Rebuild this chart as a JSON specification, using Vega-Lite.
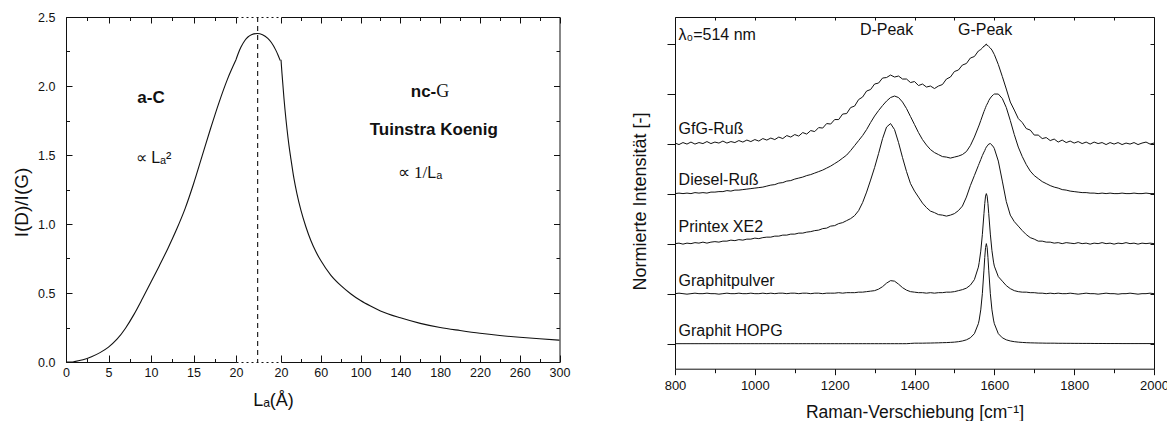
{
  "$schema": "https://vega.github.io/schema/vega-lite/v6.json",
  "background": "white",
  "padding": {"left": 12, "top": 11, "right": 0, "bottom": 0},
  "config": {
    "font": "Liberation Sans",
    "view": {"stroke": null},
    "axis": {"grid": false, "labelFont": "Liberation Sans", "titleFont": "Liberation Sans", "labelColor": "#111", "titleColor": "#111", "domainColor": "#111", "tickColor": "#111", "titleFontWeight": "normal", "labelFlush": false, "labelOverlap": false, "domainWidth": 1, "tickWidth": 1}
  },
  "datasets": {
    "aC": [
      {"La": 0, "r": 0}, {"La": 0.7, "r": 0}, {"La": 1, "r": 0.003}, {"La": 2, "r": 0.016}, {"La": 3, "r": 0.038}, {"La": 4, "r": 0.068},
      {"La": 5, "r": 0.108}, {"La": 6, "r": 0.165}, {"La": 7, "r": 0.245}, {"La": 8, "r": 0.345}, {"La": 9, "r": 0.46}, {"La": 10, "r": 0.58},
      {"La": 11, "r": 0.7}, {"La": 12, "r": 0.825}, {"La": 13, "r": 0.96}, {"La": 14, "r": 1.11}, {"La": 15, "r": 1.29}, {"La": 16, "r": 1.49},
      {"La": 17, "r": 1.69}, {"La": 18, "r": 1.88}, {"La": 19, "r": 2.05}, {"La": 20, "r": 2.19}
    ],
    "trans": [
      {"s": 0, "r": 2.19}, {"s": 0.05, "r": 2.235}, {"s": 0.11, "r": 2.28}, {"s": 0.2, "r": 2.33}, {"s": 0.27, "r": 2.355}, {"s": 0.35, "r": 2.372},
      {"s": 0.48, "r": 2.38}, {"s": 0.6, "r": 2.372}, {"s": 0.72, "r": 2.345}, {"s": 0.8, "r": 2.315}, {"s": 0.9, "r": 2.26}, {"s": 0.95, "r": 2.225}, {"s": 1, "r": 2.185}
    ],
    "nc": [
      {"La": 20, "r": 2.19}, {"La": 21, "r": 2.09}, {"La": 22, "r": 2.0}, {"La": 23, "r": 1.91}, {"La": 24, "r": 1.83}, {"La": 26, "r": 1.69},
      {"La": 28, "r": 1.57}, {"La": 30, "r": 1.47}, {"La": 33, "r": 1.33}, {"La": 36, "r": 1.22}, {"La": 40, "r": 1.1}, {"La": 45, "r": 0.98},
      {"La": 50, "r": 0.88}, {"La": 55, "r": 0.8}, {"La": 60, "r": 0.735}, {"La": 70, "r": 0.63}, {"La": 80, "r": 0.555}, {"La": 90, "r": 0.495},
      {"La": 100, "r": 0.445}, {"La": 110, "r": 0.405}, {"La": 120, "r": 0.37}, {"La": 140, "r": 0.32}, {"La": 160, "r": 0.28}, {"La": 180, "r": 0.25},
      {"La": 200, "r": 0.228}, {"La": 220, "r": 0.208}, {"La": 240, "r": 0.192}, {"La": 260, "r": 0.179}, {"La": 280, "r": 0.168}, {"La": 300, "r": 0.158}
    ],
    "spec": [
      {"w":800,"GfG":4.01,"Diesel":3.00,"Printex":2.00,"Pulver":1.00,"HOPG":0.00},
      {"w":810,"GfG":3.98,"Diesel":3.01,"Printex":2.01,"Pulver":1.01,"HOPG":0.00},
      {"w":820,"GfG":4.02,"Diesel":3.00,"Printex":1.99,"Pulver":1.00,"HOPG":0.00},
      {"w":830,"GfG":3.99,"Diesel":3.01,"Printex":2.01,"Pulver":0.99,"HOPG":0.00},
      {"w":840,"GfG":4.03,"Diesel":3.00,"Printex":2.00,"Pulver":1.00,"HOPG":0.00},
      {"w":850,"GfG":3.99,"Diesel":3.02,"Printex":2.02,"Pulver":1.01,"HOPG":0.00},
      {"w":860,"GfG":4.02,"Diesel":3.01,"Printex":2.01,"Pulver":1.00,"HOPG":0.00},
      {"w":870,"GfG":4.00,"Diesel":3.02,"Printex":2.03,"Pulver":1.00,"HOPG":0.00},
      {"w":880,"GfG":4.04,"Diesel":3.01,"Printex":2.01,"Pulver":1.01,"HOPG":0.00},
      {"w":890,"GfG":4.00,"Diesel":3.03,"Printex":2.03,"Pulver":1.00,"HOPG":0.00},
      {"w":900,"GfG":4.03,"Diesel":3.03,"Printex":2.04,"Pulver":1.00,"HOPG":0.00},
      {"w":910,"GfG":4.01,"Diesel":3.04,"Printex":2.03,"Pulver":0.99,"HOPG":0.00},
      {"w":920,"GfG":4.05,"Diesel":3.04,"Printex":2.05,"Pulver":1.00,"HOPG":0.00},
      {"w":930,"GfG":4.01,"Diesel":3.06,"Printex":2.05,"Pulver":1.01,"HOPG":0.00},
      {"w":940,"GfG":4.04,"Diesel":3.05,"Printex":2.07,"Pulver":1.00,"HOPG":0.00},
      {"w":950,"GfG":4.02,"Diesel":3.07,"Printex":2.06,"Pulver":1.00,"HOPG":0.00},
      {"w":960,"GfG":4.06,"Diesel":3.07,"Printex":2.08,"Pulver":1.01,"HOPG":0.00},
      {"w":970,"GfG":4.03,"Diesel":3.08,"Printex":2.07,"Pulver":1.00,"HOPG":0.00},
      {"w":980,"GfG":4.07,"Diesel":3.09,"Printex":2.09,"Pulver":1.00,"HOPG":0.00},
      {"w":990,"GfG":4.04,"Diesel":3.10,"Printex":2.09,"Pulver":1.01,"HOPG":0.00},
      {"w":1000,"GfG":4.08,"Diesel":3.11,"Printex":2.11,"Pulver":1.00,"HOPG":0.00},
      {"w":1010,"GfG":4.05,"Diesel":3.12,"Printex":2.10,"Pulver":1.00,"HOPG":0.00},
      {"w":1020,"GfG":4.10,"Diesel":3.13,"Printex":2.12,"Pulver":1.01,"HOPG":0.00},
      {"w":1030,"GfG":4.07,"Diesel":3.15,"Printex":2.13,"Pulver":1.00,"HOPG":0.00},
      {"w":1040,"GfG":4.11,"Diesel":3.17,"Printex":2.13,"Pulver":1.01,"HOPG":0.00},
      {"w":1050,"GfG":4.08,"Diesel":3.18,"Printex":2.15,"Pulver":1.00,"HOPG":0.00},
      {"w":1060,"GfG":4.13,"Diesel":3.21,"Printex":2.15,"Pulver":1.01,"HOPG":0.00},
      {"w":1070,"GfG":4.10,"Diesel":3.22,"Printex":2.17,"Pulver":1.01,"HOPG":0.00},
      {"w":1080,"GfG":4.16,"Diesel":3.25,"Printex":2.17,"Pulver":1.00,"HOPG":0.00},
      {"w":1090,"GfG":4.13,"Diesel":3.26,"Printex":2.19,"Pulver":1.01,"HOPG":0.00},
      {"w":1100,"GfG":4.18,"Diesel":3.29,"Printex":2.19,"Pulver":1.01,"HOPG":0.00},
      {"w":1110,"GfG":4.15,"Diesel":3.31,"Printex":2.21,"Pulver":1.00,"HOPG":0.00},
      {"w":1120,"GfG":4.22,"Diesel":3.33,"Printex":2.21,"Pulver":1.01,"HOPG":0.00},
      {"w":1130,"GfG":4.19,"Diesel":3.36,"Printex":2.23,"Pulver":1.01,"HOPG":0.00},
      {"w":1140,"GfG":4.26,"Diesel":3.38,"Printex":2.24,"Pulver":1.00,"HOPG":0.00},
      {"w":1150,"GfG":4.24,"Diesel":3.41,"Printex":2.26,"Pulver":1.01,"HOPG":0.00},
      {"w":1160,"GfG":4.32,"Diesel":3.44,"Printex":2.27,"Pulver":1.01,"HOPG":0.00},
      {"w":1170,"GfG":4.31,"Diesel":3.47,"Printex":2.30,"Pulver":1.00,"HOPG":0.00},
      {"w":1180,"GfG":4.40,"Diesel":3.51,"Printex":2.31,"Pulver":1.01,"HOPG":0.00},
      {"w":1190,"GfG":4.39,"Diesel":3.55,"Printex":2.35,"Pulver":1.01,"HOPG":0.00},
      {"w":1200,"GfG":4.48,"Diesel":3.60,"Printex":2.36,"Pulver":1.01,"HOPG":0.00},
      {"w":1210,"GfG":4.48,"Diesel":3.65,"Printex":2.40,"Pulver":1.02,"HOPG":0.00},
      {"w":1220,"GfG":4.59,"Diesel":3.71,"Printex":2.42,"Pulver":1.01,"HOPG":0.00},
      {"w":1230,"GfG":4.60,"Diesel":3.77,"Printex":2.46,"Pulver":1.02,"HOPG":0.00},
      {"w":1240,"GfG":4.72,"Diesel":3.86,"Printex":2.50,"Pulver":1.02,"HOPG":0.00},
      {"w":1250,"GfG":4.75,"Diesel":3.96,"Printex":2.56,"Pulver":1.02,"HOPG":0.00},
      {"w":1260,"GfG":4.88,"Diesel":4.06,"Printex":2.66,"Pulver":1.03,"HOPG":0.00},
      {"w":1270,"GfG":4.93,"Diesel":4.16,"Printex":2.82,"Pulver":1.03,"HOPG":0.00},
      {"w":1280,"GfG":5.05,"Diesel":4.28,"Printex":3.03,"Pulver":1.04,"HOPG":0.00},
      {"w":1290,"GfG":5.08,"Diesel":4.42,"Printex":3.27,"Pulver":1.05,"HOPG":0.00},
      {"w":1300,"GfG":5.19,"Diesel":4.55,"Printex":3.52,"Pulver":1.06,"HOPG":0.00},
      {"w":1310,"GfG":5.21,"Diesel":4.66,"Printex":3.80,"Pulver":1.09,"HOPG":0.00},
      {"w":1320,"GfG":5.31,"Diesel":4.76,"Printex":4.10,"Pulver":1.14,"HOPG":0.00},
      {"w":1330,"GfG":5.32,"Diesel":4.85,"Printex":4.33,"Pulver":1.21,"HOPG":0.00},
      {"w":1340,"GfG":5.37,"Diesel":4.92,"Printex":4.40,"Pulver":1.26,"HOPG":0.00},
      {"w":1350,"GfG":5.33,"Diesel":4.95,"Printex":4.28,"Pulver":1.25,"HOPG":0.00},
      {"w":1360,"GfG":5.35,"Diesel":4.92,"Printex":4.02,"Pulver":1.19,"HOPG":0.00},
      {"w":1370,"GfG":5.29,"Diesel":4.83,"Printex":3.72,"Pulver":1.12,"HOPG":0.00},
      {"w":1380,"GfG":5.29,"Diesel":4.70,"Printex":3.44,"Pulver":1.07,"HOPG":0.00},
      {"w":1390,"GfG":5.22,"Diesel":4.54,"Printex":3.20,"Pulver":1.04,"HOPG":0.005},
      {"w":1400,"GfG":5.24,"Diesel":4.38,"Printex":3.05,"Pulver":1.03,"HOPG":0.01},
      {"w":1410,"GfG":5.16,"Diesel":4.22,"Printex":2.93,"Pulver":1.02,"HOPG":0.01},
      {"w":1420,"GfG":5.19,"Diesel":4.08,"Printex":2.81,"Pulver":1.02,"HOPG":0.01},
      {"w":1430,"GfG":5.13,"Diesel":3.97,"Printex":2.72,"Pulver":1.01,"HOPG":0.012},
      {"w":1440,"GfG":5.15,"Diesel":3.88,"Printex":2.65,"Pulver":1.02,"HOPG":0.013},
      {"w":1450,"GfG":5.10,"Diesel":3.82,"Printex":2.62,"Pulver":1.01,"HOPG":0.015},
      {"w":1460,"GfG":5.15,"Diesel":3.78,"Printex":2.58,"Pulver":1.02,"HOPG":0.017},
      {"w":1470,"GfG":5.18,"Diesel":3.74,"Printex":2.57,"Pulver":1.02,"HOPG":0.02},
      {"w":1480,"GfG":5.29,"Diesel":3.73,"Printex":2.55,"Pulver":1.03,"HOPG":0.022},
      {"w":1490,"GfG":5.33,"Diesel":3.71,"Printex":2.57,"Pulver":1.03,"HOPG":0.026},
      {"w":1500,"GfG":5.44,"Diesel":3.73,"Printex":2.60,"Pulver":1.04,"HOPG":0.031},
      {"w":1510,"GfG":5.47,"Diesel":3.75,"Printex":2.66,"Pulver":1.06,"HOPG":0.04},
      {"w":1520,"GfG":5.57,"Diesel":3.78,"Printex":2.75,"Pulver":1.08,"HOPG":0.054},
      {"w":1530,"GfG":5.60,"Diesel":3.84,"Printex":2.93,"Pulver":1.11,"HOPG":0.077},
      {"w":1540,"GfG":5.71,"Diesel":3.96,"Printex":3.16,"Pulver":1.17,"HOPG":0.118},
      {"w":1550,"GfG":5.74,"Diesel":4.13,"Printex":3.36,"Pulver":1.28,"HOPG":0.2},
      {"w":1560,"GfG":5.85,"Diesel":4.33,"Printex":3.56,"Pulver":1.53,"HOPG":0.4},
      {"w":1562,"GfG":5.86,"Diesel":4.37,"Printex":3.60,"Pulver":1.62,"HOPG":0.472},
      {"w":1566,"GfG":5.88,"Diesel":4.46,"Printex":3.68,"Pulver":1.85,"HOPG":0.676},
      {"w":1570,"GfG":5.91,"Diesel":4.55,"Printex":3.76,"Pulver":2.18,"HOPG":1.0},
      {"w":1574,"GfG":5.95,"Diesel":4.64,"Printex":3.83,"Pulver":2.60,"HOPG":1.47},
      {"w":1576,"GfG":5.95,"Diesel":4.68,"Printex":3.86,"Pulver":2.80,"HOPG":1.724},
      {"w":1578,"GfG":5.98,"Diesel":4.72,"Printex":3.90,"Pulver":2.95,"HOPG":1.923},
      {"w":1580,"GfG":5.99,"Diesel":4.76,"Printex":3.93,"Pulver":3.00,"HOPG":2.0},
      {"w":1582,"GfG":5.96,"Diesel":4.79,"Printex":3.95,"Pulver":2.95,"HOPG":1.923},
      {"w":1584,"GfG":5.96,"Diesel":4.82,"Printex":3.97,"Pulver":2.80,"HOPG":1.724},
      {"w":1586,"GfG":5.94,"Diesel":4.86,"Printex":3.99,"Pulver":2.60,"HOPG":1.47},
      {"w":1590,"GfG":5.91,"Diesel":4.91,"Printex":4.00,"Pulver":2.19,"HOPG":1.0},
      {"w":1594,"GfG":5.87,"Diesel":4.95,"Printex":3.97,"Pulver":1.86,"HOPG":0.676},
      {"w":1598,"GfG":5.81,"Diesel":4.98,"Printex":3.93,"Pulver":1.63,"HOPG":0.472},
      {"w":1600,"GfG":5.78,"Diesel":4.99,"Printex":3.90,"Pulver":1.55,"HOPG":0.4},
      {"w":1610,"GfG":5.58,"Diesel":4.99,"Printex":3.65,"Pulver":1.34,"HOPG":0.2},
      {"w":1620,"GfG":5.34,"Diesel":4.90,"Printex":3.25,"Pulver":1.25,"HOPG":0.118},
      {"w":1630,"GfG":5.09,"Diesel":4.72,"Printex":2.84,"Pulver":1.16,"HOPG":0.077},
      {"w":1640,"GfG":4.83,"Diesel":4.46,"Printex":2.57,"Pulver":1.10,"HOPG":0.054},
      {"w":1650,"GfG":4.67,"Diesel":4.18,"Printex":2.44,"Pulver":1.06,"HOPG":0.04},
      {"w":1660,"GfG":4.50,"Diesel":3.93,"Printex":2.35,"Pulver":1.04,"HOPG":0.031},
      {"w":1670,"GfG":4.42,"Diesel":3.74,"Printex":2.26,"Pulver":1.03,"HOPG":0.025},
      {"w":1680,"GfG":4.30,"Diesel":3.58,"Printex":2.18,"Pulver":1.03,"HOPG":0.02},
      {"w":1690,"GfG":4.27,"Diesel":3.45,"Printex":2.12,"Pulver":1.02,"HOPG":0.017},
      {"w":1700,"GfG":4.17,"Diesel":3.36,"Printex":2.09,"Pulver":1.02,"HOPG":0.015},
      {"w":1710,"GfG":4.17,"Diesel":3.30,"Printex":2.05,"Pulver":1.01,"HOPG":0.013},
      {"w":1720,"GfG":4.10,"Diesel":3.24,"Printex":2.05,"Pulver":1.01,"HOPG":0.012},
      {"w":1730,"GfG":4.12,"Diesel":3.20,"Printex":2.03,"Pulver":1.00,"HOPG":0.01},
      {"w":1740,"GfG":4.06,"Diesel":3.16,"Printex":2.03,"Pulver":1.01,"HOPG":0.01},
      {"w":1750,"GfG":4.09,"Diesel":3.13,"Printex":2.01,"Pulver":1.00,"HOPG":0.01},
      {"w":1760,"GfG":4.03,"Diesel":3.11,"Printex":2.02,"Pulver":1.01,"HOPG":0.008},
      {"w":1770,"GfG":4.07,"Diesel":3.08,"Printex":2.00,"Pulver":1.00,"HOPG":0.008},
      {"w":1780,"GfG":4.02,"Diesel":3.07,"Printex":2.02,"Pulver":1.00,"HOPG":0.007},
      {"w":1790,"GfG":4.05,"Diesel":3.05,"Printex":2.01,"Pulver":1.01,"HOPG":0.007},
      {"w":1800,"GfG":4.01,"Diesel":3.04,"Printex":2.00,"Pulver":1.00,"HOPG":0.006},
      {"w":1810,"GfG":4.04,"Diesel":3.03,"Printex":2.02,"Pulver":0.99,"HOPG":0.006},
      {"w":1820,"GfG":4.00,"Diesel":3.02,"Printex":2.00,"Pulver":1.00,"HOPG":0.005},
      {"w":1830,"GfG":4.03,"Diesel":3.02,"Printex":2.01,"Pulver":1.01,"HOPG":0.005},
      {"w":1840,"GfG":3.99,"Diesel":3.01,"Printex":1.99,"Pulver":1.00,"HOPG":0.005},
      {"w":1850,"GfG":4.03,"Diesel":3.01,"Printex":2.01,"Pulver":1.00,"HOPG":0.004},
      {"w":1860,"GfG":4.00,"Diesel":3.00,"Printex":2.00,"Pulver":0.99,"HOPG":0.004},
      {"w":1870,"GfG":4.02,"Diesel":3.01,"Printex":2.02,"Pulver":1.00,"HOPG":0.004},
      {"w":1880,"GfG":3.98,"Diesel":3.00,"Printex":2.00,"Pulver":1.01,"HOPG":0.003},
      {"w":1890,"GfG":4.02,"Diesel":3.01,"Printex":2.01,"Pulver":1.00,"HOPG":0.003},
      {"w":1900,"GfG":3.99,"Diesel":3.00,"Printex":1.99,"Pulver":1.00,"HOPG":0.003},
      {"w":1910,"GfG":4.02,"Diesel":3.00,"Printex":2.01,"Pulver":0.99,"HOPG":0.003},
      {"w":1920,"GfG":3.98,"Diesel":3.01,"Printex":2.00,"Pulver":1.00,"HOPG":0.002},
      {"w":1930,"GfG":4.01,"Diesel":3.00,"Printex":2.02,"Pulver":1.00,"HOPG":0.002},
      {"w":1940,"GfG":3.99,"Diesel":3.00,"Printex":2.00,"Pulver":1.01,"HOPG":0.002},
      {"w":1950,"GfG":4.02,"Diesel":3.01,"Printex":2.01,"Pulver":1.00,"HOPG":0.002},
      {"w":1960,"GfG":3.98,"Diesel":3.00,"Printex":1.99,"Pulver":0.99,"HOPG":0.002},
      {"w":1970,"GfG":4.01,"Diesel":3.00,"Printex":2.01,"Pulver":1.00,"HOPG":0.002},
      {"w":1980,"GfG":4.03,"Diesel":3.01,"Printex":2.00,"Pulver":1.00,"HOPG":0.002},
      {"w":1990,"GfG":3.99,"Diesel":3.00,"Printex":2.01,"Pulver":1.01,"HOPG":0.002},
      {"w":2000,"GfG":4.01,"Diesel":3.00,"Printex":2.00,"Pulver":1.00,"HOPG":0.002}
    ]
  },
  "spacing": 61,
  "hconcat": [
    {
      "spacing": 0,
      "bounds": "flush",
      "hconcat": [
        {
          "width": 170,
          "height": 345,
          "layer": [
            {
              "data": {"name": "aC"},
              "mark": {"type": "line", "color": "#111", "strokeWidth": 1.1, "interpolate": "monotone"},
              "encoding": {
                "x": {"field": "La", "type": "quantitative", "scale": {"domain": [0, 20], "nice": false, "zero": false},
                  "axis": {"orient": "bottom", "values": [0, 5, 10, 15, 20], "format": "d", "ticks": false, "domain": true, "labelPadding": 4, "labelFontSize": 12.5, "title": null}},
                "y": {"field": "r", "type": "quantitative", "scale": {"domain": [0, 2.5], "nice": false, "zero": false},
                  "axis": {"orient": "left", "values": [0, 0.5, 1, 1.5, 2, 2.5], "format": ".1f", "ticks": false, "domain": true, "labelPadding": 11, "labelFontSize": 12.5, "title": "I(D)/I(G)", "titleFontSize": 19, "titlePadding": 6.5, "titleY": 185}}
              }
            },
            {
              "data": {"name": "aC"},
              "mark": {"type": "point", "opacity": 0},
              "encoding": {
                "x": {"field": "La", "type": "quantitative", "scale": {"domain": [0, 20], "nice": false, "zero": false},
                  "axis": {"orient": "bottom", "values": [0, 2.5, 5, 7.5, 10, 12.5, 15, 17.5, 20], "labels": false, "title": null, "domain": false, "offset": -7, "tickSize": 7,
                    "tickDash": {"condition": {"test": "datum.value % 5 != 0", "value": [0, 3.5, 3.5, 50]}, "value": [50, 0]}}},
                "y": {"field": "r", "type": "quantitative", "scale": {"domain": [0, 2.5], "nice": false, "zero": false},
                  "axis": {"orient": "left", "values": [0, 0.25, 0.5, 0.75, 1, 1.25, 1.5, 1.75, 2, 2.25, 2.5], "labels": false, "title": null, "domain": false, "offset": -6, "tickSize": 6,
                    "tickDash": {"condition": {"test": "abs(datum.value * 2 - round(datum.value * 2)) > 0.01", "value": [0, 2.5, 3.5, 50]}, "value": [50, 0]}}}
              }
            },
            {
              "data": {"name": "aC"},
              "mark": {"type": "point", "opacity": 0},
              "encoding": {
                "x": {"field": "La", "type": "quantitative", "scale": {"domain": [0, 20], "nice": false, "zero": false},
                  "axis": {"orient": "top", "values": [0, 2.5, 5, 7.5, 10, 12.5, 15, 17.5, 20], "labels": false, "title": null, "domain": false, "offset": -6, "tickSize": 6,
                    "tickDash": {"condition": {"test": "datum.value % 5 != 0", "value": [0, 2.5, 3.5, 50]}, "value": [50, 0]}}},
                "y": {"field": "r", "type": "quantitative", "scale": {"domain": [0, 2.5], "nice": false, "zero": false}, "axis": null}
              }
            },
            {
              "data": {"name": "aC"},
              "mark": {"type": "point", "opacity": 0},
              "encoding": {
                "x": {"field": "La", "type": "quantitative", "scale": {"domain": [0, 20], "nice": false, "zero": false},
                  "axis": {"orient": "top", "labels": false, "ticks": false, "title": null, "domain": true}},
                "y": {"field": "r", "type": "quantitative", "scale": {"domain": [0, 2.5], "nice": false, "zero": false}, "axis": null}
              }
            },
            {
              "data": {"values": [{"La": 10.0, "r": 1.913, "label": "a-C"}]},
              "mark": {"type": "text", "font": "Liberation Sans", "fontWeight": "bold", "fontSize": 17, "color": "#111", "align": "center", "baseline": "middle"},
              "encoding": {
                "x": {"field": "La", "type": "quantitative", "scale": {"domain": [0, 20], "nice": false, "zero": false}, "axis": null},
                "y": {"field": "r", "type": "quantitative", "scale": {"domain": [0, 2.5], "nice": false, "zero": false}, "axis": null},
                "text": {"field": "label"}
              }
            },
            {
              "data": {"values": [{"La": 8.2, "r": 1.48, "label": "∝ Lₐ²"}]},
              "mark": {"type": "text", "font": "Liberation Sans", "fontSize": 16, "color": "#111", "align": "left", "baseline": "middle"},
              "encoding": {
                "x": {"field": "La", "type": "quantitative", "scale": {"domain": [0, 20], "nice": false, "zero": false}, "axis": null},
                "y": {"field": "r", "type": "quantitative", "scale": {"domain": [0, 2.5], "nice": false, "zero": false}, "axis": null},
                "text": {"field": "label"}
              }
            }
          ],
          "resolve": {"axis": {"x": "independent", "y": "independent"}}
        },
        {
          "width": 44.2,
          "height": 345,
          "layer": [
            {
              "data": {"name": "trans"},
              "mark": {"type": "line", "color": "#111", "strokeWidth": 1.1, "interpolate": "monotone"},
              "encoding": {
                "x": {"field": "s", "type": "quantitative", "scale": {"domain": [0, 1], "nice": false, "zero": false},
                  "axis": {"orient": "bottom", "labels": false, "ticks": false, "domainDash": [2, 3], "title": "Lₐ(Å)", "titleFontSize": 18, "titlePadding": 29, "titleX": 37}},
                "y": {"field": "r", "type": "quantitative", "scale": {"domain": [0, 2.5], "nice": false, "zero": false}, "axis": null}
              }
            },
            {
              "data": {"name": "trans"},
              "mark": {"type": "point", "opacity": 0},
              "encoding": {
                "x": {"field": "s", "type": "quantitative", "scale": {"domain": [0, 1], "nice": false, "zero": false},
                  "axis": {"orient": "top", "labels": false, "ticks": false, "domainDash": [2, 3], "title": null}},
                "y": {"field": "r", "type": "quantitative", "scale": {"domain": [0, 2.5], "nice": false, "zero": false}, "axis": null}
              }
            },
            {
              "data": {"values": [{"s": 0.49}]},
              "mark": {"type": "rule", "color": "#111", "strokeWidth": 1.1, "strokeDash": [5, 4]},
              "encoding": {
                "x": {"field": "s", "type": "quantitative", "scale": {"domain": [0, 1], "nice": false, "zero": false}, "axis": null}
              }
            }
          ],
          "resolve": {"axis": {"x": "independent", "y": "independent"}}
        },
        {
          "width": 278.5,
          "height": 345,
          "layer": [
            {
              "data": {"name": "nc"},
              "mark": {"type": "line", "color": "#111", "strokeWidth": 1.1, "interpolate": "monotone"},
              "encoding": {
                "x": {"field": "La", "type": "quantitative", "scale": {"domain": [20, 300], "nice": false, "zero": false},
                  "axis": {"orient": "bottom", "values": [20, 60, 100, 140, 180, 220, 260, 300], "format": "d", "ticks": false, "domain": true, "labelPadding": 4, "labelFontSize": 12.5, "title": null}},
                "y": {"field": "r", "type": "quantitative", "scale": {"domain": [0, 2.5], "nice": false, "zero": false}, "axis": null}
              }
            },
            {
              "data": {"name": "nc"},
              "mark": {"type": "point", "opacity": 0},
              "encoding": {
                "x": {"field": "La", "type": "quantitative", "scale": {"domain": [20, 300], "nice": false, "zero": false},
                  "axis": {"orient": "bottom", "values": [20, 40, 60, 80, 100, 120, 140, 160, 180, 200, 220, 240, 260, 280, 300], "labels": false, "title": null, "domain": false, "offset": -7, "tickSize": 7,
                    "tickDash": {"condition": {"test": "(datum.value - 20) % 40 != 0", "value": [0, 3.5, 3.5, 50]}, "value": [50, 0]}}},
                "y": {"field": "r", "type": "quantitative", "scale": {"domain": [0, 2.5], "nice": false, "zero": false},
                  "axis": {"orient": "right", "values": [0, 0.25, 0.5, 0.75, 1, 1.25, 1.5, 1.75, 2, 2.25, 2.5], "labels": false, "title": null, "domain": false, "offset": -6, "tickSize": 6,
                    "tickDash": {"condition": {"test": "abs(datum.value * 2 - round(datum.value * 2)) > 0.01", "value": [0, 2.5, 3.5, 50]}, "value": [50, 0]}}}
              }
            },
            {
              "data": {"name": "nc"},
              "mark": {"type": "point", "opacity": 0},
              "encoding": {
                "x": {"field": "La", "type": "quantitative", "scale": {"domain": [20, 300], "nice": false, "zero": false},
                  "axis": {"orient": "top", "values": [20, 40, 60, 80, 100, 120, 140, 160, 180, 200, 220, 240, 260, 280, 300], "labels": false, "title": null, "domain": false, "offset": -6, "tickSize": 6,
                    "tickDash": {"condition": {"test": "(datum.value - 20) % 40 != 0", "value": [0, 2.5, 3.5, 50]}, "value": [50, 0]}}},
                "y": {"field": "r", "type": "quantitative", "scale": {"domain": [0, 2.5], "nice": false, "zero": false}, "axis": null}
              }
            },
            {
              "data": {"name": "nc"},
              "mark": {"type": "point", "opacity": 0},
              "encoding": {
                "x": {"field": "La", "type": "quantitative", "scale": {"domain": [20, 300], "nice": false, "zero": false},
                  "axis": {"orient": "top", "labels": false, "ticks": false, "title": null, "domain": true}},
                "y": {"field": "r", "type": "quantitative", "scale": {"domain": [0, 2.5], "nice": false, "zero": false},
                  "axis": {"orient": "right", "labels": false, "ticks": false, "title": null, "domain": true}}
              }
            },
            {
              "data": {"values": [{"La": 176.1, "r": 1.96, "label": "nc-"}]},
              "mark": {"type": "text", "font": "Liberation Sans", "fontWeight": "bold", "fontSize": 17, "color": "#111", "align": "right", "baseline": "middle"},
              "encoding": {
                "x": {"field": "La", "type": "quantitative", "scale": {"domain": [20, 300], "nice": false, "zero": false}, "axis": null},
                "y": {"field": "r", "type": "quantitative", "scale": {"domain": [0, 2.5], "nice": false, "zero": false}, "axis": null},
                "text": {"field": "label"}
              }
            },
            {
              "data": {"values": [{"La": 176.1, "r": 1.96, "label": "G"}]},
              "mark": {"type": "text", "font": "Liberation Serif", "fontSize": 18, "color": "#111", "align": "left", "baseline": "middle"},
              "encoding": {
                "x": {"field": "La", "type": "quantitative", "scale": {"domain": [20, 300], "nice": false, "zero": false}, "axis": null},
                "y": {"field": "r", "type": "quantitative", "scale": {"domain": [0, 2.5], "nice": false, "zero": false}, "axis": null},
                "text": {"field": "label"}
              }
            },
            {
              "data": {"values": [{"La": 173.6, "r": 1.683, "label": "Tuinstra Koenig"}]},
              "mark": {"type": "text", "font": "Liberation Sans", "fontWeight": "bold", "fontSize": 17, "color": "#111", "align": "center", "baseline": "middle"},
              "encoding": {
                "x": {"field": "La", "type": "quantitative", "scale": {"domain": [20, 300], "nice": false, "zero": false}, "axis": null},
                "y": {"field": "r", "type": "quantitative", "scale": {"domain": [0, 2.5], "nice": false, "zero": false}, "axis": null},
                "text": {"field": "label"}
              }
            },
            {
              "data": {"values": [{"La": 167.1, "r": 1.372, "label": "∝ 1/"}]},
              "mark": {"type": "text", "font": "Liberation Serif", "fontSize": 17, "color": "#111", "align": "right", "baseline": "middle"},
              "encoding": {
                "x": {"field": "La", "type": "quantitative", "scale": {"domain": [20, 300], "nice": false, "zero": false}, "axis": null},
                "y": {"field": "r", "type": "quantitative", "scale": {"domain": [0, 2.5], "nice": false, "zero": false}, "axis": null},
                "text": {"field": "label"}
              }
            },
            {
              "data": {"values": [{"La": 167.1, "r": 1.372, "label": "Lₐ"}]},
              "mark": {"type": "text", "font": "Liberation Sans", "fontSize": 16, "color": "#111", "align": "left", "baseline": "middle"},
              "encoding": {
                "x": {"field": "La", "type": "quantitative", "scale": {"domain": [20, 300], "nice": false, "zero": false}, "axis": null},
                "y": {"field": "r", "type": "quantitative", "scale": {"domain": [0, 2.5], "nice": false, "zero": false}, "axis": null},
                "text": {"field": "label"}
              }
            }
          ],
          "resolve": {"axis": {"x": "independent", "y": "independent"}}
        }
      ]
    },
    {
      "width": 479,
      "height": 351.7,
      "layer": [
        {
          "data": {"name": "spec"},
          "transform": [{"fold": ["GfG", "Diesel", "Printex", "Pulver", "HOPG"], "as": ["sample", "I"]}],
          "mark": {"type": "line", "color": "#111", "strokeWidth": 1},
          "encoding": {
            "x": {"field": "w", "type": "quantitative", "scale": {"domain": [800, 2000], "nice": false, "zero": false},
              "axis": {"orient": "bottom", "values": [800, 900, 1000, 1100, 1200, 1300, 1400, 1500, 1600, 1700, 1800, 1900, 2000], "format": "d",
                "labelExpr": "datum.value % 200 == 0 ? datum.label : ''",
                "tickSize": {"condition": {"test": "datum.value % 200 == 0", "value": 6}, "value": 4},
                "labelPadding": 5, "labelFontSize": 13, "title": "Raman-Verschiebung [cm⁻¹]", "titleFontSize": 17.5, "titlePadding": 11}},
            "y": {"field": "I", "type": "quantitative", "scale": {"domain": [-0.5, 6.53], "nice": false, "zero": false},
              "axis": {"orient": "left", "values": [0, 1, 2, 3, 4, 5, 6], "labels": false, "tickSize": 8, "title": "Normierte Intensität [-]", "titleFontSize": 18, "titlePadding": 17, "titleY": 184}},
            "detail": {"field": "sample"}
          }
        },
        {
          "data": {"name": "spec"},
          "mark": {"type": "point", "opacity": 0},
          "encoding": {
            "x": {"field": "w", "type": "quantitative", "scale": {"domain": [800, 2000], "nice": false, "zero": false},
              "axis": {"orient": "top", "values": [800, 900, 1000, 1100, 1200, 1300, 1400, 1500, 1600, 1700, 1800, 1900, 2000], "labels": false, "title": null, "domain": false, "offset": -3, "tickSize": 3}},
            "y": {"field": "GfG", "type": "quantitative", "scale": {"domain": [-0.5, 6.53], "nice": false, "zero": false},
              "axis": {"orient": "right", "values": [0, 1, 2, 3, 4, 5, 6], "labels": false, "title": null, "domain": false, "offset": -4, "tickSize": 4}}
          }
        },
        {
          "data": {"name": "spec"},
          "mark": {"type": "point", "opacity": 0},
          "encoding": {
            "x": {"field": "w", "type": "quantitative", "scale": {"domain": [800, 2000], "nice": false, "zero": false},
              "axis": {"orient": "top", "labels": false, "ticks": false, "title": null, "domain": true}},
            "y": {"field": "GfG", "type": "quantitative", "scale": {"domain": [-0.5, 6.53], "nice": false, "zero": false},
              "axis": {"orient": "right", "labels": false, "ticks": false, "title": null, "domain": true}}
          }
        },
        {
          "data": {"values": [
            {"w": 809, "v": 4.30, "label": "GfG-Ruß"},
            {"w": 809, "v": 3.27, "label": "Diesel-Ruß"},
            {"w": 809, "v": 2.33, "label": "Printex XE2"},
            {"w": 809, "v": 1.25, "label": "Graphitpulver"},
            {"w": 809, "v": 0.26, "label": "Graphit HOPG"},
            {"w": 809, "v": 6.17, "label": "λ₀=514 nm"}
          ]},
          "mark": {"type": "text", "font": "Liberation Sans", "fontSize": 16, "color": "#111", "align": "left", "baseline": "middle"},
          "encoding": {
            "x": {"field": "w", "type": "quantitative", "scale": {"domain": [800, 2000], "nice": false, "zero": false}, "axis": null},
            "y": {"field": "v", "type": "quantitative", "scale": {"domain": [-0.5, 6.53], "nice": false, "zero": false}, "axis": null},
            "text": {"field": "label"}
          }
        },
        {
          "data": {"values": [
            {"w": 1330, "v": 6.27, "label": "D-Peak"},
            {"w": 1577, "v": 6.27, "label": "G-Peak"}
          ]},
          "mark": {"type": "text", "font": "Liberation Sans", "fontSize": 16, "color": "#111", "align": "center", "baseline": "middle"},
          "encoding": {
            "x": {"field": "w", "type": "quantitative", "scale": {"domain": [800, 2000], "nice": false, "zero": false}, "axis": null},
            "y": {"field": "v", "type": "quantitative", "scale": {"domain": [-0.5, 6.53], "nice": false, "zero": false}, "axis": null},
            "text": {"field": "label"}
          }
        }
      ],
      "resolve": {"axis": {"x": "independent", "y": "independent"}}
    }
  ]
}
